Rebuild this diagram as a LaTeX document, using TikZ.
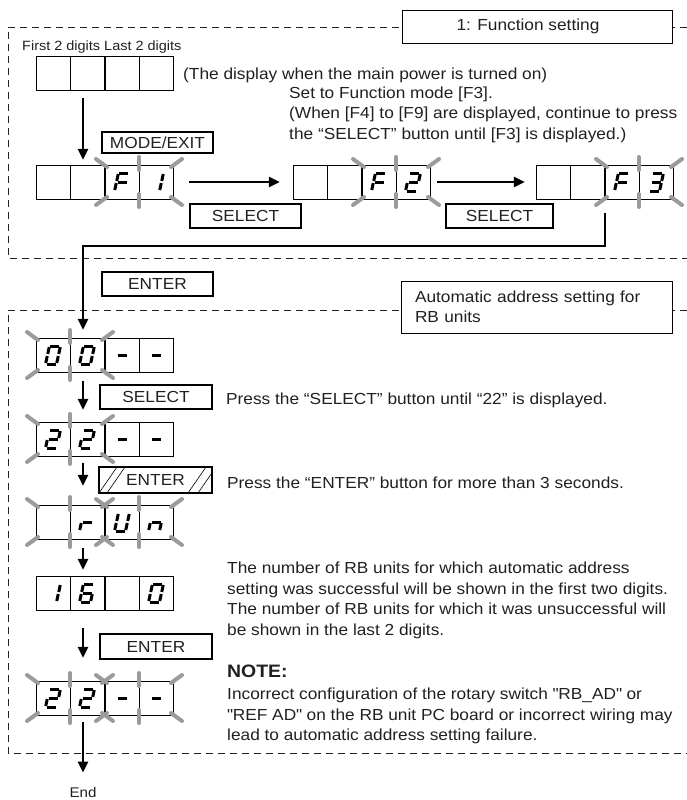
\documentclass[tikz,border=0pt]{standalone}
\usepackage{fontspec}
\setmainfont{Liberation Sans}[FakeStretch=1.08]
\usetikzlibrary{arrows.meta, positioning, calc}

\definecolor{flashgray}{RGB}{155,155,155}
\definecolor{inkgray}{RGB}{35,31,32}

\newcommand{\bodyfont}{\fontsize{16}{20.5}\selectfont}
% straight double quote, kept out of the TeX mapping
\newcommand{\sq}{\XeTeXglyph\XeTeXglyphindex "quotedbl"\relax}

% two cells of the display
\newcommand{\cellpair}[2]{%
	\draw[cellline] (#1,#2) rectangle ++(68,34);
	\draw[cellline] (#1+34,#2) -- ++(0,34);
}
% flashing rays round two cells
\newcommand{\flashrays}[2]{%
	\draw[ray] (#1+2,#2+2) -- ++(-11,-8);
	\draw[ray] (#1+34,#2+5) -- ++(0,-13);
	\draw[ray] (#1+66,#2+2) -- ++(11,-8);
	\draw[ray] (#1+2,#2+32) -- ++(-11,8);
	\draw[ray] (#1+34,#2+29) -- ++(0,13);
	\draw[ray] (#1+66,#2+32) -- ++(11,8);
}
% seven segment digit, #3 = list of segments
\newcommand{\segdigit}[3]{%
	\begin{scope}[shift={(#1,#2)}, xslant=0.22]
		\coordinate (sega1) at (-4.5,-9); \coordinate (sega2) at (4.5,-9);
		\coordinate (segb1) at (5.5,-8);  \coordinate (segb2) at (5.5,-1);
		\coordinate (segc1) at (5.5,1);   \coordinate (segc2) at (5.5,8);
		\coordinate (segd1) at (-4.5,9);  \coordinate (segd2) at (4.5,9);
		\coordinate (sege1) at (-5.5,1);  \coordinate (sege2) at (-5.5,8);
		\coordinate (segf1) at (-5.5,-8); \coordinate (segf2) at (-5.5,-1);
		\coordinate (segg1) at (-4.5,0);  \coordinate (segg2) at (4.5,0);
		\foreach \sg in {#3} {\draw[segline] (seg\sg1) -- (seg\sg2);}
	\end{scope}
}

\begin{document}
\begin{tikzpicture}[
			x=1pt, y=-1pt,
			every node/.style={font=\bodyfont, text=inkgray},
			disp/.style={
				rectangle,
				minimum width=137pt,
				minimum height=34pt,
				inner sep=0pt
			},
			btn/.style={
				rectangle,
				draw,
				line width=1.5pt,
				minimum width=111pt,
				minimum height=24pt,
				inner sep=0pt
			},
			titlebox/.style={
				rectangle,
				draw,
				fill=white,
				line width=0.8pt,
				inner sep=0pt
			},
			hatched/.style={
				path picture={
					\draw[line width=0.6pt] (path picture bounding box.south west) -- ++(18pt,26pt);
					\draw[line width=0.6pt] ([xshift=8pt]path picture bounding box.south west) -- ++(18pt,26pt);
					\draw[line width=0.6pt] ([xshift=-24pt]path picture bounding box.south east) -- ++(18pt,26pt);
					\draw[line width=0.6pt] ([xshift=-14pt]path picture bounding box.south east) -- ++(18pt,26pt);
				}
			},
			note/.style={
				anchor=base west,
				align=left,
				inner sep=0pt
			},
			arr/.style={
				-{Triangle[length=11pt, width=10pt]},
				line width=2.6pt
			},
			frameline/.style={
				dash pattern=on 7pt off 5pt,
				line width=0.8pt,
				inkgray
			},
			cellline/.style={line width=0.8pt},
			ray/.style={flashgray, line width=4pt, line cap=round},
			segline/.style={line width=3pt}
			]
			
			\useasboundingbox (0,0) rectangle (687,800);
			
			% dashed frames of the two steps
			\draw[frameline] (687,27) -- (8,27) -- (8,258) -- (687,258);
			\draw[frameline] (687,310) -- (8,310) -- (8,753) -- (687,753);
			
			\node[titlebox, minimum width=270pt, minimum height=33pt] (title1) at (537,26.5) {1: Function setting\hspace*{18pt}};
			\node[titlebox, minimum width=271pt, minimum height=52pt, text width=243pt, align=left] (title2) at (536.5,307) {Automatic address setting for\\RB units};
			
			% display at power on
			\node[note, font=\fontsize{13.4}{16}\selectfont] (digits) at (22,51) {First 2 digits Last 2 digits};
			\node[disp] (show0) at (104.5,73) {};
			\cellpair{36}{56} \cellpair{105}{56}
			\node[note] (poweron) at (183,79) {(The display when the main power is turned on)};
			
			% F1
			\node[disp] (show1) at (104.5,182) {};
			\cellpair{36}{165} \cellpair{105}{165} \flashrays{105}{165}
			\segdigit{122}{182}{a,e,f,g} \segdigit{156}{182}{b,c}
			
			% F2
			\node[disp] (show2) at (361.5,182) {};
			\cellpair{293}{165} \cellpair{362}{165} \flashrays{362}{165}
			\segdigit{379}{182}{a,e,f,g} \segdigit{413}{182}{a,b,g,e,d}
			
			% F3
			\node[disp] (show3) at (604.5,182) {};
			\cellpair{536}{165} \cellpair{605}{165} \flashrays{605}{165}
			\segdigit{622}{182}{a,e,f,g} \segdigit{656}{182}{a,b,g,c,d}
			
			\node[btn, minimum height=21pt] (modeexit) at (157.5,142.5) {MODE/EXIT};
			\node[btn] (select1) at (245.5,216) {SELECT};
			\node[btn, minimum width=107pt] (select2) at (499.5,216) {SELECT};
			\node[note] (setf3) at (289,139) {Set to Function mode [F3].\\(When [F4] to [F9] are displayed, continue to press\\the “SELECT” button until [F3] is displayed.)};
			
			\node[btn] (enter1) at (157.5,284) {ENTER};
			
			% 00--
			\node[disp] (show4) at (104.5,355) {};
			\cellpair{36}{338} \cellpair{105}{338} \flashrays{36}{338}
			\segdigit{53}{355}{a,b,c,d,e,f} \segdigit{87}{355}{a,b,c,d,e,f}
			\segdigit{122}{355}{g} \segdigit{156}{355}{g}
			
			\node[btn, minimum width=112pt] (select3) at (156,397) {SELECT};
			\node[note] (presssel) at (226,404) {Press the “SELECT” button until “22” is displayed.};
			
			% 22--
			\node[disp] (show5) at (104.5,439) {};
			\cellpair{36}{422} \cellpair{105}{422} \flashrays{36}{422}
			\segdigit{53}{439}{a,b,g,e,d} \segdigit{87}{439}{a,b,g,e,d}
			\segdigit{122}{439}{g} \segdigit{156}{439}{g}
			
			\node[btn, hatched, minimum width=113pt, minimum height=26pt] (enter2) at (155.5,480) {ENTER};
			\node[note] (pressent) at (227,488) {Press the “ENTER” button for more than 3 seconds.};
			
			% run
			\node[disp] (show6) at (104.5,522) {};
			\cellpair{36}{505} \cellpair{105}{505} \flashrays{36}{505} \flashrays{105}{505}
			\segdigit{87}{522}{e,g} \segdigit{122}{522}{b,c,d,e,f} \segdigit{156}{522}{c,e,g}
			
			% result 16 0
			\node[disp] (show7) at (104.5,593) {};
			\cellpair{36}{576} \cellpair{105}{576}
			\segdigit{53}{593}{b,c} \segdigit{87}{593}{a,f,g,e,d,c} \segdigit{156}{593}{a,b,c,d,e,f}
			\node[note] (result) at (227,635) {The number of RB units for which automatic address\\setting was successful will be shown in the first two digits.\\The number of RB units for which it was unsuccessful will\\be shown in the last 2 digits.};
			
			\node[btn, minimum width=112pt, minimum height=25pt] (enter3) at (156,646.5) {ENTER};
			
			% 22-- again
			\node[disp] (show8) at (104.5,698) {};
			\cellpair{36}{681} \cellpair{105}{681} \flashrays{36}{681} \flashrays{105}{681}
			\segdigit{53}{698}{a,b,g,e,d} \segdigit{87}{698}{a,b,g,e,d}
			\segdigit{122}{698}{g} \segdigit{156}{698}{g}
			
			\node[note, font=\fontsize{18}{22}\selectfont\bfseries] (notehead) at (227,677) {NOTE:};
			\node[note] (notetext) at (227,740.5) {Incorrect configuration of the rotary switch \sq RB\_AD\sq{} or\\\sq REF AD\sq{} on the RB unit PC board or incorrect wiring may\\lead to automatic address setting failure.};
			
			\node[anchor=base, inner sep=0pt, font=\fontsize{14}{16}\selectfont] (endn) at (83,797) {End};
			
			% connectors
			\coordinate (ax) at (83,0);
			\coordinate (f3out) at (605,213);
			\coordinate (f3turn) at (605,246);
			\draw[arr, shorten <=8pt, shorten >=5pt] (show0.south -| ax) -- (show1.north -| ax);
			\draw[arr, shorten <=16pt, shorten >=13pt] (show1.east) -- (show2.west);
			\draw[arr, shorten <=7pt, shorten >=11pt] (show2.east) -- (show3.west);
			\draw[arr, shorten >=8pt] (f3out) -- (f3turn) -| (show4.north -| ax);
			\draw[arr, shorten <=9pt, shorten >=12pt] (show4.south -| ax) -- (show5.north -| ax);
			\draw[arr, shorten <=7pt, shorten >=19pt] (show5.south -| ax) -- (show6.north -| ax);
			\draw[arr, shorten <=9pt, shorten >=6pt] (show6.south -| ax) -- (show7.north -| ax);
			\draw[arr, shorten <=18pt, shorten >=23pt] (show7.south -| ax) -- (show8.north -| ax);
			\draw[arr, shorten <=7pt, shorten >=14pt] (show8.south -| ax) -- (endn.north);
			
		\end{tikzpicture}
\end{document}
